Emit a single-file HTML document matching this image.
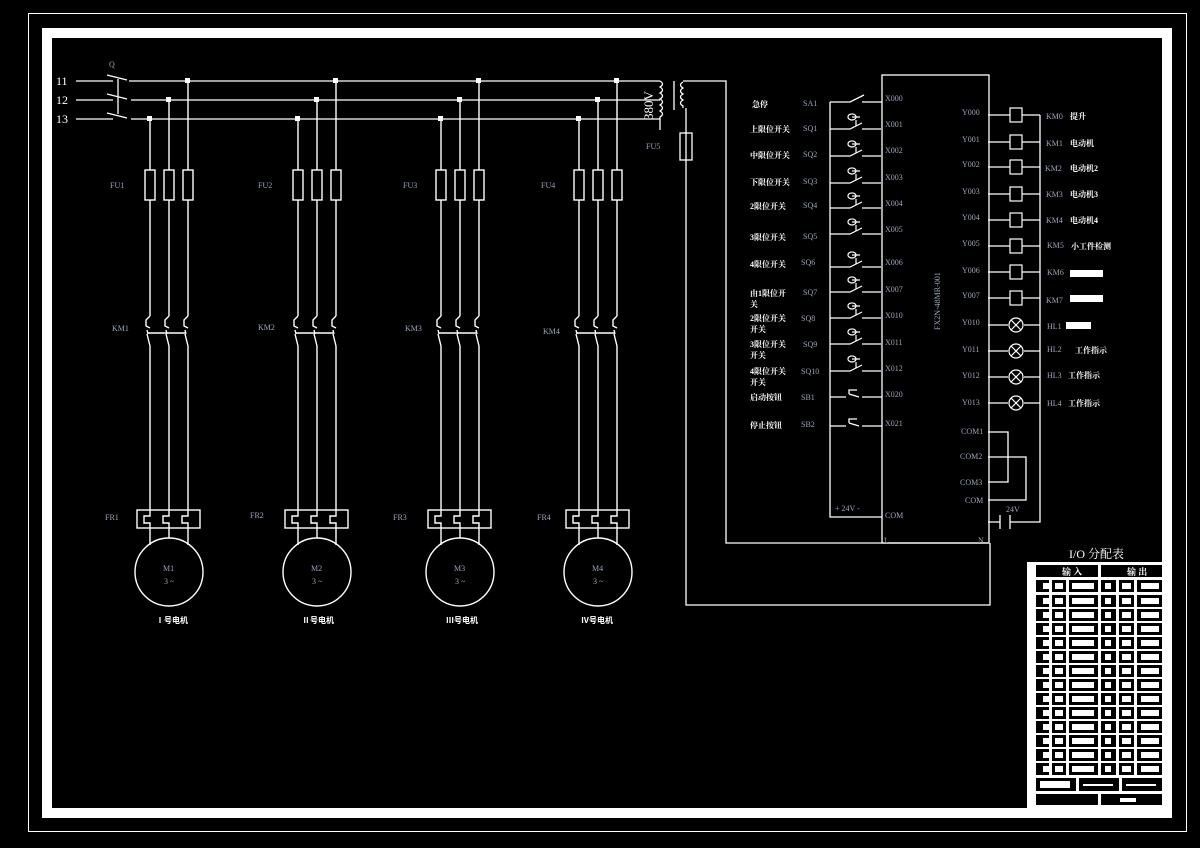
<!DOCTYPE html>
<html><head><meta charset="utf-8"><style>
html,body{margin:0;padding:0;background:#000;width:1200px;height:848px;overflow:hidden}
svg{display:block}
text{font-family:"Liberation Serif","Noto Serif CJK SC",serif;}
.l{fill:#9aa3b8;font-size:8px}
.w{fill:#fff;font-size:8px;font-weight:bold;font-family:"Liberation Sans","Noto Sans CJK SC",sans-serif}
</style></head><body>
<svg width="1200" height="848" viewBox="0 0 1200 848" xmlns="http://www.w3.org/2000/svg">
<defs>
<g id="grp" stroke="#fff" stroke-width="1.4" fill="none">
  <path d="M0 119V170M19 100V170M38 81V170"/>
  <rect x="-5" y="170" width="10" height="30"/><rect x="14" y="170" width="10" height="30"/><rect x="33" y="170" width="10" height="30"/>
  <path d="M0 200V316M19 200V316M38 200V316"/>
  <path d="M0 316l-4 4v6l4 2M19 316l-4 4v6l4 2M38 316l-4 4v6l4 2"/>
  <path d="M-3 330l1 4M16 330l1 4M35 330l1 4"/>
  <path d="M-2 333H35" />
  <path d="M-3 334l3 12M16 334l3 12M35 334l3 12"/>
  <path d="M0 346V510M19 346V510M38 346V510"/>
  <rect x="-13" y="510" width="63" height="18"/>
  <path d="M0 510v6h-6v7h6v5M19 510v6h-6v7h6v5M38 510v6h-6v7h6v5"/>
  <path d="M0 528V545M19 528V538M38 528V545"/>
  <circle cx="19" cy="572" r="34"/>
</g>
<g id="ls" stroke="#fff" stroke-width="1.2" fill="none">
  <path d="M0 0H20l12-6M32 0H51"/>
  <path d="M26 -3v-6M22 -12h8M26 -12a4 3 0 1 1 0 -0.1"/>
</g>
<g id="coil" stroke="#fff" stroke-width="1.2" fill="none">
  <path d="M0 0H22M34 0H52"/><rect x="22" y="-7" width="12" height="14"/>
</g>
<g id="lamp" stroke="#fff" stroke-width="1.2" fill="none">
  <path d="M0 0H20M36 0H52"/><circle cx="28" cy="0" r="7"/><path d="M23 -5l10 10M33 -5l-10 10"/>
</g>
</defs>

<!-- frame -->
<rect x="28.5" y="13.5" width="1158" height="818" fill="none" stroke="#fff" stroke-width="1"/>
<rect x="47" y="33" width="1120" height="780" fill="none" stroke="#fff" stroke-width="10"/>

<!-- mains -->
<text x="56" y="85" fill="#fff" font-size="12">11</text>
<text x="56" y="104" fill="#fff" font-size="12">12</text>
<text x="56" y="123" fill="#fff" font-size="12">13</text>
<text x="109" y="67" class="l">Q</text>
<g stroke="#fff" stroke-width="1.3" fill="none">
  <path d="M76 81H113M76 100H113M76 119H113"/>
  <path d="M107 75l20 5M107 94l20 5M107 113l20 5M118 79V114"/>
  <path d="M129 81H660M131 100H660M131 119H660"/>
  <path d="M660 81q5 3 0 6q5 3 0 6q5 3 0 6q5 3 0 6q5 3 0 6q5 3 0 6v13"/>
  <path d="M674 81V110"/>
  <path d="M683 82q-5 3 0 6q-5 3 0 6q-5 3 0 6q-5 3 0 6v2"/>
  <path d="M683 81H726V543H988"/>
  <path d="M686 108V605H990V543"/>
  <rect x="680" y="133" width="12" height="27"/>
</g>
<text transform="translate(653,120) rotate(-90)" fill="#fff" font-size="13">380V</text>
<text x="646" y="149" class="l">FU5</text>
<g fill="#fff">
<rect x="147" y="116" width="5" height="5"/><rect x="166" y="97" width="5" height="5"/><rect x="185" y="78" width="5" height="5"/>
<rect x="295" y="116" width="5" height="5"/><rect x="314" y="97" width="5" height="5"/><rect x="333" y="78" width="5" height="5"/>
<rect x="438" y="116" width="5" height="5"/><rect x="457" y="97" width="5" height="5"/><rect x="476" y="78" width="5" height="5"/>
<rect x="576" y="116" width="5" height="5"/><rect x="595" y="97" width="5" height="5"/><rect x="614" y="78" width="5" height="5"/>
</g>

<use href="#grp" x="150"/>
<use href="#grp" x="298"/>
<use href="#grp" x="441"/>
<use href="#grp" x="579"/>

<text x="110" y="188" class="l">FU1</text><text x="258" y="188" class="l">FU2</text><text x="403" y="188" class="l">FU3</text><text x="541" y="188" class="l">FU4</text>
<text x="112" y="331" class="l">KM1</text><text x="258" y="330" class="l">KM2</text><text x="405" y="331" class="l">KM3</text><text x="543" y="334" class="l">KM4</text>
<text x="105" y="520" class="l">FR1</text><text x="250" y="518" class="l">FR2</text><text x="393" y="520" class="l">FR3</text><text x="537" y="520" class="l">FR4</text>
<text x="163" y="571" class="l">M1</text><text x="164" y="584" class="l">3 ~</text>
<text x="311" y="571" class="l">M2</text><text x="312" y="584" class="l">3 ~</text>
<text x="454" y="571" class="l">M3</text><text x="455" y="584" class="l">3 ~</text>
<text x="592" y="571" class="l">M4</text><text x="593" y="584" class="l">3 ~</text>
<text x="156" y="623" class="w">Ⅰ号电机</text><text x="302" y="623" class="w">Ⅱ号电机</text>
<text x="446" y="623" class="w">Ⅲ号电机</text><text x="581" y="623" class="w">Ⅳ号电机</text>

<!-- PLC -->
<g stroke="#fff" stroke-width="1.3" fill="none">
  <rect x="882" y="75" width="107" height="468"/>
  <path d="M830 102V517H882"/>
  <path d="M1040 115V522H1010M1000 522H988M1000 515v14M1010 515v14"/>
  <path d="M988 432H1008V482H988M988 457H1026V500H988"/>
  <path d="M830 102H850l14 -7M862 102H882"/>
  <path d="M830 397H846M849 394v-4h8M862 397H882M849 394l10 3"/>
  <path d="M830 426H846M849 423v-4h8M862 426H882M849 423l10 3"/>
</g>
<use href="#ls" x="830" y="129"/><use href="#ls" x="830" y="156"/><use href="#ls" x="830" y="183"/>
<use href="#ls" x="830" y="208"/><use href="#ls" x="830" y="234"/><use href="#ls" x="830" y="267"/>
<use href="#ls" x="830" y="292"/><use href="#ls" x="830" y="318"/><use href="#ls" x="830" y="344"/><use href="#ls" x="830" y="371"/>

<g class="l">
<text x="885" y="101">X000</text><text x="885" y="127">X001</text><text x="885" y="153">X002</text><text x="885" y="180">X003</text>
<text x="885" y="206">X004</text><text x="885" y="232">X005</text><text x="885" y="265">X006</text><text x="885" y="292">X007</text>
<text x="885" y="318">X010</text><text x="885" y="345">X011</text><text x="885" y="371">X012</text><text x="885" y="397">X020</text>
<text x="885" y="426">X021</text><text x="885" y="518">COM</text><text x="835" y="511">+ 24V -</text>
<text x="884" y="543">L</text><text x="978" y="543">N</text>
<text x="803" y="106">SA1</text><text x="803" y="131">SQ1</text><text x="803" y="157">SQ2</text><text x="803" y="184">SQ3</text>
<text x="803" y="208">SQ4</text><text x="803" y="239">SQ5</text><text x="801" y="265">SQ6</text><text x="803" y="295">SQ7</text>
<text x="801" y="321">SQ8</text><text x="803" y="347">SQ9</text><text x="801" y="374">SQ10</text><text x="801" y="400">SB1</text><text x="801" y="427">SB2</text>
<text x="962" y="115">Y000</text><text x="962" y="142">Y001</text><text x="962" y="167">Y002</text><text x="962" y="194">Y003</text>
<text x="962" y="220">Y004</text><text x="962" y="246">Y005</text><text x="962" y="273">Y006</text><text x="962" y="298">Y007</text>
<text x="962" y="325">Y010</text><text x="962" y="352">Y011</text><text x="962" y="378">Y012</text><text x="962" y="405">Y013</text>
<text x="961" y="434">COM1</text><text x="960" y="459">COM2</text><text x="960" y="485">COM3</text><text x="965" y="503">COM</text>
<text x="1006" y="512">24V</text>
<text x="1046" y="119">KM0</text><text x="1046" y="146">KM1</text><text x="1045" y="171">KM2</text><text x="1046" y="197">KM3</text>
<text x="1046" y="223">KM4</text><text x="1047" y="248">KM5</text><text x="1047" y="275">KM6</text><text x="1046" y="303">KM7</text>
<text x="1047" y="329">HL1</text><text x="1047" y="352">HL2</text><text x="1047" y="378">HL3</text><text x="1047" y="406">HL4</text>
</g>
<text transform="translate(940,330) rotate(-90)" class="l">FX2N-48MR-001</text>

<use href="#coil" x="988" y="115"/><use href="#coil" x="988" y="142"/><use href="#coil" x="988" y="167"/><use href="#coil" x="988" y="194"/>
<use href="#coil" x="988" y="220"/><use href="#coil" x="988" y="246"/><use href="#coil" x="988" y="272"/><use href="#coil" x="988" y="298"/>
<use href="#lamp" x="988" y="325"/><use href="#lamp" x="988" y="351"/><use href="#lamp" x="988" y="377"/><use href="#lamp" x="988" y="403"/>

<g class="w">
<text x="752" y="107">急停</text><text x="750" y="132">上限位开关</text><text x="750" y="158">中限位开关</text><text x="750" y="185">下限位开关</text>
<text x="750" y="209">2限位开关</text><text x="750" y="240">3限位开关</text><text x="750" y="267">4限位开关</text>
<text x="750" y="296">由1限位开</text><text x="750" y="307">关</text>
<text x="750" y="321">2限位开关</text><text x="750" y="332">开关</text>
<text x="750" y="347">3限位开关</text><text x="750" y="358">开关</text>
<text x="750" y="374">4限位开关</text><text x="750" y="385">开关</text>
<text x="750" y="400">启动按钮</text><text x="750" y="428">停止按钮</text>
<text x="1070" y="119">提升</text><text x="1070" y="146">电动机</text><text x="1070" y="171">电动机2</text><text x="1070" y="197">电动机3</text>
<text x="1070" y="223">电动机4</text><text x="1071" y="249">小工件检测</text>
<text x="1075" y="353">工作指示</text><text x="1068" y="378">工作指示</text><text x="1068" y="406">工作指示</text>
</g>
<g fill="#fff"><rect x="1070" y="270" width="33" height="7"/><rect x="1070" y="295" width="33" height="7"/><rect x="1066" y="322" width="25" height="7"/></g>

<!-- I/O table -->
<text x="1069" y="558" fill="#fff" font-size="12">I/O 分配表</text>
<rect x="1027" y="562" width="9" height="248" fill="#fff"/>
<rect x="1030" y="805" width="140" height="6" fill="#fff"/>
<rect x="1030" y="562" width="134" height="246" fill="#fff"/>
<g fill="#000">
<rect x="1036" y="565" width="62" height="12"/><rect x="1101" y="565" width="61" height="12"/>
<text x="1062" y="575" fill="#fff" font-size="9" font-weight="bold">输 入</text>
<text x="1127" y="575" fill="#fff" font-size="9" font-weight="bold">输 出</text>
</g>
<g id="rows">
<g fill="#000">
<rect x="1036" y="580" width="13" height="12"/><rect x="1052" y="580" width="14" height="12"/><rect x="1069" y="580" width="29" height="12"/>
<rect x="1101" y="580" width="15" height="12"/><rect x="1119" y="580" width="15" height="12"/><rect x="1137" y="580" width="25" height="12"/>
</g>
<g fill="#fff">
<rect x="1043" y="583" width="6" height="6"/><rect x="1055" y="583" width="8" height="6"/><rect x="1072" y="583" width="22" height="6"/>
<rect x="1105" y="583" width="6" height="6"/><rect x="1122" y="583" width="9" height="6"/><rect x="1141" y="583" width="18" height="6"/>
</g>
</g>
<use href="#rows" y="15"/><use href="#rows" y="29"/><use href="#rows" y="43"/><use href="#rows" y="57"/><use href="#rows" y="71"/>
<use href="#rows" y="85"/><use href="#rows" y="99"/><use href="#rows" y="113"/><use href="#rows" y="127"/><use href="#rows" y="141"/>
<use href="#rows" y="155"/><use href="#rows" y="169"/><use href="#rows" y="183"/>
<g fill="#000"><rect x="1036" y="778" width="40" height="13"/><rect x="1079" y="778" width="40" height="13"/><rect x="1122" y="778" width="40" height="13"/>
<rect x="1036" y="794" width="62" height="11"/><rect x="1101" y="794" width="61" height="11"/></g>
<g fill="#fff"><rect x="1040" y="781" width="30" height="7"/><rect x="1083" y="784" width="30" height="2"/><rect x="1126" y="784" width="30" height="2"/><rect x="1120" y="798" width="16" height="4"/></g>
</svg>
</body></html>
